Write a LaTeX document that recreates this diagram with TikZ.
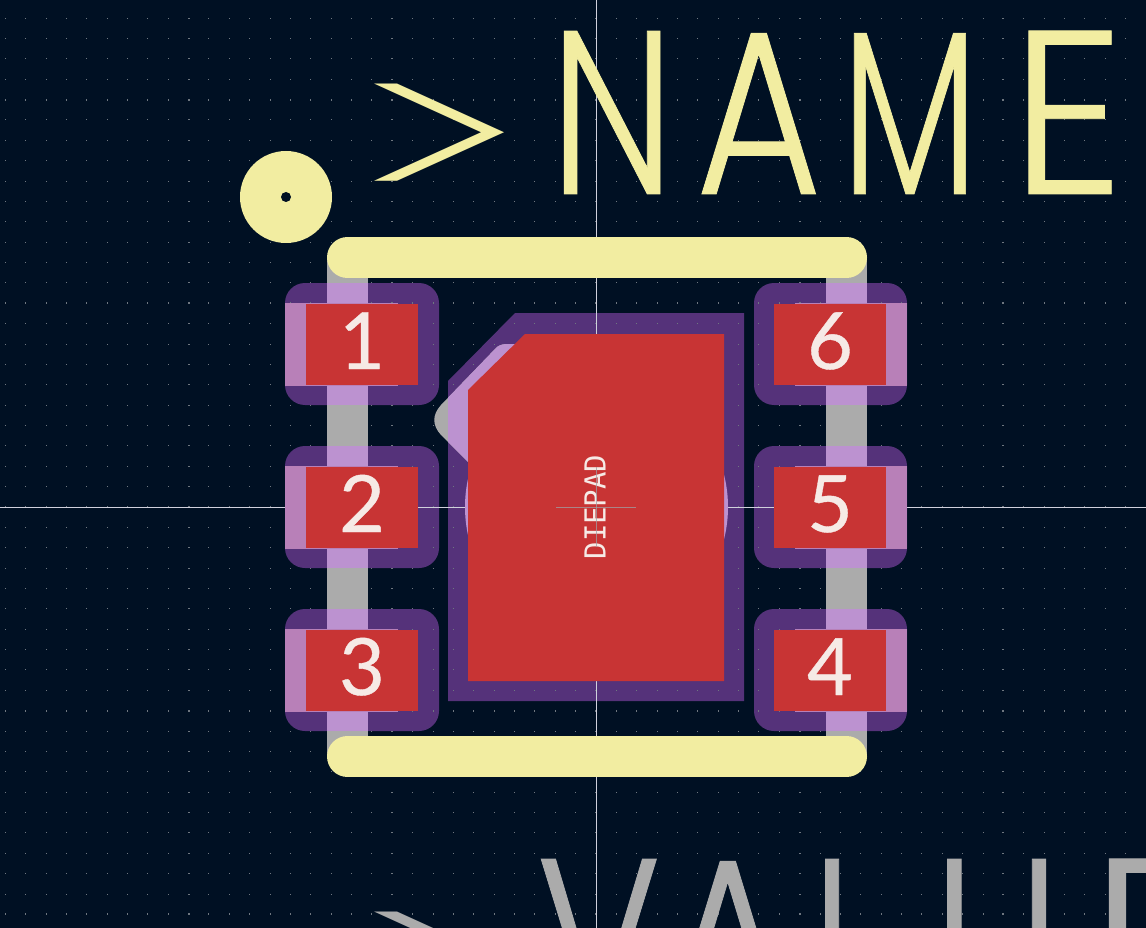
\documentclass[tikz,border=0pt]{standalone}
\usepackage{graphicx}
\usepackage{fontspec}
\setmainfont{Lato}
\newfontfamily\numfont[FakeBold=0.5]{Lato}
\newfontfamily\strokefont[UprightFont={* Light},FakeBold=0.4]{Poppins}
\newfontfamily\thinfont[UprightFont={* ExtraLight}]{Poppins}
\newfontfamily\monofont{DejaVu Sans Mono}
\definecolor{bgc}{HTML}{001023}
\definecolor{maskc}{HTML}{55327A}
\definecolor{lilac}{HTML}{BC92D0}
\definecolor{stripc}{HTML}{B880B8}
\definecolor{padc}{HTML}{C83434}
\definecolor{silk}{HTML}{F2EDA1}
\definecolor{fabc}{HTML}{ABABAB}
\definecolor{dotc}{HTML}{6F7780}
\definecolor{crossc}{HTML}{D0D0DC}
\definecolor{numc}{HTML}{F6EAE6}
\newcommand\ltr[3]{\rlap{\kern#1pt\scalebox{#2}[1]{#3}}}
\newcommand\gtsign{\raisebox{-16.4pt}{\scalebox{1.74}[0.89]{\thinfont\fontsize{233}{233}\selectfont >}}}
\tikzset{
  mask/.style={fill=maskc,draw=none,rounded corners=20pt},
  padnum/.style={text=numc,font=\numfont\fontsize{79}{79}\selectfont,inner sep=0pt,anchor=base},
  bigtext/.style={font=\strokefont\fontsize{233}{233}\selectfont,inner sep=0pt,anchor=base west},
}
\begin{document}
\begin{tikzpicture}[x=1pt,y=-1pt]
\useasboundingbox (0,0) rectangle (1146,928);
\clip (0,0) rectangle (1146,928);
\fill[bgc] (0,0) rectangle (1146,928);
% solder mask
\foreach \y in {283,446,609}{
  \fill[mask] (285,\y) rectangle (439,\y+122);
  \fill[mask] (754,\y) rectangle (907,\y+122);
}
\fill[maskc] (448,381) -- (515,313) -- (744,313) -- (744,701) -- (448,701) -- cycle;
% grid
\foreach \i in {-29,...,27}{
  \foreach \j in {-24,...,20}{
    \pgfmathsetmacro\dw{mod(\i,10)==0?0.95:0.5}
    \pgfmathsetmacro\dh{mod(\j,10)==0?0.95:0.5}
    \fill[dotc] (596+\i*20.37-\dw,507+\j*20.37-\dh) rectangle (596+\i*20.37+\dw,507+\j*20.37+\dh);
  }
}
% crosshair
\fill[crossc] (0,506.5) rectangle (1146,507.6);
\fill[crossc] (596,0) rectangle (597,928);
% fab sides
\fill[fabc] (327,258) rectangle (368,756);
\fill[fabc] (826,258) rectangle (867,756);
\foreach \y in {283,446,609}{
  \fill[lilac] (327,\y) rectangle (368,\y+122);
  \fill[lilac] (826,\y) rectangle (867,\y+122);
}
% pin-1 pointer
\fill[fabc] (441,405) -- (497,347) .. controls (501,344) and (505,344) .. (510,344) -- (530,344) -- (530,480) -- (468,480) -- (468,462) -- (441,435) .. controls (432,425) and (432,415) .. (441,405) -- cycle;
\begin{scope}
\clip (448,300) rectangle (600,500);
\fill[lilac] (441,405) -- (497,347) .. controls (501,344) and (505,344) .. (510,344) -- (530,344) -- (530,480) -- (468,480) -- (468,462) -- (441,435) -- cycle;
\end{scope}
\fill[lilac] (596.5,507) circle (131.5);
% pad bodies
\foreach \y in {303,466,629}{
  \fill[stripc] (285,\y) rectangle (398,\y+83);
  \fill[stripc] (795,\y) rectangle (907,\y+83);
}
% copper
\foreach \y in {304,467,630}{
  \fill[padc] (306,\y) rectangle (418,\y+81);
  \fill[padc] (774,\y) rectangle (886,\y+81);
}
\fill[padc] (468,390) -- (525,334) -- (724,334) -- (724,681) -- (468,681) -- cycle;
% labels
\node[padnum] (n1) at (362,369) {1};
\node[padnum] (n2) at (362,532) {2};
\node[padnum] (n3) at (362,695) {3};
\node[padnum] (n4) at (830,695) {4};
\node[padnum] (n5) at (830,532) {5};
\node[padnum] (n6) at (830,369) {6};
\node[text=numc,rotate=90,inner sep=0pt,font=\monofont\fontsize{29}{29}\selectfont] (die) at (595,507) {DIEPAD};
% anchor cross
\fill[gray!60!crossc,opacity=.75] (556,506.5) rectangle (636,507.5);
\fill[gray!60!crossc,opacity=.75] (596,467) rectangle (597,547);
% silk
\draw[silk,line width=41pt,line cap=round] (347.5,257.5) -- (846.5,257.5);
\draw[silk,line width=41pt,line cap=round] (347.5,756.5) -- (846.5,756.5);
\fill[silk] (286,197) circle (46);
\fill[bgc] (286,197) circle (5);
\node[bigtext,text=silk] (nm) at (374,194) {\ltr{-24}{1}{\gtsign}\ltr{175}{.78}{N}\ltr{321}{.83}{A}\ltr{466.5}{.70}{M}\ltr{636}{.97}{E}};
\node[bigtext,text=fabc] (vl) at (374,1022) {\ltr{-24}{1}{\gtsign}\ltr{162}{.81}{V}\ltr{290}{.83}{A}\ltr{436}{.8}{L}\ltr{558}{.83}{U}\ltr{716}{1}{E}};
\end{tikzpicture}
\end{document}
